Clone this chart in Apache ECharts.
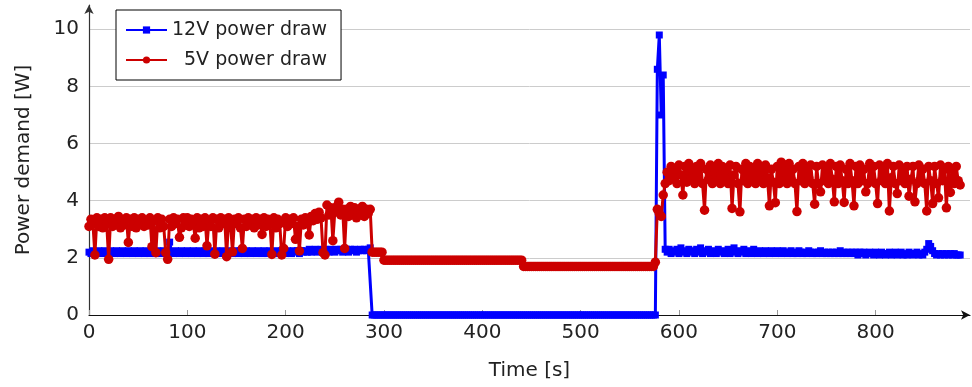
<!DOCTYPE html>
<html>
<head>
<meta charset="utf-8">
<script src="https://cdn.jsdelivr.net/npm/echarts@6/dist/echarts.min.js"></script>
<style>
html,body{margin:0;padding:0;background:#fff;}
#chart{width:972px;height:387px;}
</style>
</head>
<body>
<div id="chart"></div>
<script>
// sampling step of the time axis [s]
const timeStep = 2;
const xTicks = [0, 100, 200, 300, 400, 500, 600, 700, 800];
const yTicks = [0, 2, 4, 6, 8, 10];
const seriesNames = ['12V power draw', '5V power draw'];

// 12V power draw [W]
const p12_part1 = [ // t = 0 .. 286
  2.2,2.15,2.25,2.2,2.15,2.25,2.2,2.15,2.25,2.2,
  2.15,2.25,2.2,2.15,2.25,2.2,2.15,2.25,2.2,2.15,
  2.25,2.2,2.15,2.25,2.2,2.15,2.25,2.2,2.15,2.25,
  2.2,2.15,2.25,2.2,2.15,2.25,2.2,2.15,2.25,2.2,
  2.15,2.55,2.2,2.15,2.25,2.2,2.15,2.25,2.2,2.15,
  2.25,2.2,2.15,2.25,2.2,2.15,2.25,2.2,2.15,2.25,
  2.2,2.15,2.25,2.2,2.15,2.25,2.2,2.15,2.25,2.2,
  2.15,2.25,2.2,2.15,2.25,2.2,2.15,2.25,2.2,2.15,
  2.25,2.2,2.15,2.25,2.2,2.15,2.25,2.2,2.15,2.25,
  2.2,2.15,2.25,2.2,2.15,2.25,2.2,2.15,2.25,2.2,
  2.15,2.25,2.2,2.15,2.25,2.2,2.25,2.15,2.25,2.2,
  2.25,2.2,2.3,2.2,2.25,2.3,2.2,2.25,2.3,2.2,
  2.3,2.25,2.2,2.3,2.25,2.2,2.3,2.25,2.3,2.2,
  2.25,2.3,2.2,2.3,2.25,2.3,2.2,2.25,2.3,2.25,
  2.3,2.25,2.3,2.35
];
const p12_part2 = [ // t = 288 .. 576
  0,0,0,0,0,0,0,0,0,0,
  0,0,0,0,0,0,0,0,0,0,
  0,0,0,0,0,0,0,0,0,0,
  0,0,0,0,0,0,0,0,0,0,
  0,0,0,0,0,0,0,0,0,0,
  0,0,0,0,0,0,0,0,0,0,
  0,0,0,0,0,0,0,0,0,0,
  0,0,0,0,0,0,0,0,0,0,
  0,0,0,0,0,0,0,0,0,0,
  0,0,0,0,0,0,0,0,0,0,
  0,0,0,0,0,0,0,0,0,0,
  0,0,0,0,0,0,0,0,0,0,
  0,0,0,0,0,0,0,0,0,0,
  0,0,0,0,0,0,0,0,0,0,
  0,0,0,0,0
];
const p12_part3 = [ // t = 578 .. 886
  8.6,9.8,7.0,8.4,2.3,2.2,2.3,2.15,2.25,2.2,
  2.3,2.15,2.35,2.2,2.25,2.15,2.3,2.2,2.25,2.15,
  2.3,2.2,2.35,2.15,2.25,2.2,2.3,2.15,2.25,2.2,
  2.15,2.3,2.2,2.25,2.15,2.2,2.3,2.15,2.25,2.35,
  2.2,2.15,2.25,2.2,2.3,2.15,2.2,2.25,2.15,2.3,
  2.2,2.15,2.25,2.2,2.15,2.25,2.2,2.15,2.25,2.2,
  2.15,2.25,2.2,2.15,2.25,2.2,2.15,2.2,2.25,2.15,
  2.2,2.15,2.25,2.2,2.15,2.2,2.15,2.25,2.2,2.15,
  2.2,2.15,2.2,2.25,2.15,2.2,2.15,2.2,2.15,2.2,
  2.15,2.2,2.15,2.25,2.15,2.2,2.15,2.2,2.15,2.2,
  2.15,2.2,2.1,2.2,2.15,2.2,2.1,2.15,2.2,2.15,
  2.1,2.2,2.15,2.1,2.2,2.15,2.1,2.15,2.2,2.1,
  2.15,2.2,2.1,2.15,2.2,2.1,2.15,2.1,2.2,2.15,
  2.1,2.15,2.2,2.1,2.15,2.1,2.2,2.3,2.5,2.4,
  2.25,2.15,2.1,2.15,2.1,2.15,2.1,2.15,2.1,2.15,
  2.1,2.15,2.1,2.1,2.1
];

// 5V power draw [W]
const p5_part1 = [ // t = 0 .. 286
  3.1,3.35,3.2,2.1,3.4,3.1,3.35,3.05,3.4,3.2,
  1.95,3.4,3.1,3.35,3.2,3.45,3.05,3.3,3.15,3.4,
  2.54,3.35,3.1,3.4,3.05,3.35,3.2,3.4,3.1,3.3,
  3.15,3.4,2.39,3.3,2.18,3.4,3.05,3.35,3.1,2.18,
  1.95,3.35,3.1,3.4,3.2,3.35,2.72,3.05,3.4,3.15,
  3.4,3.1,3.35,3.2,2.69,3.4,3.05,3.35,3.1,3.4,
  2.42,3.3,3.1,3.4,2.13,3.35,3.05,3.4,3.2,3.35,
  2.04,3.4,3.1,2.21,3.35,3.2,3.4,3.05,2.33,3.35,
  3.1,3.4,3.2,3.35,3.05,3.4,3.15,3.35,2.82,3.4,
  3.1,3.35,3.2,2.12,3.4,3.05,3.35,3.2,2.1,2.33,
  3.4,3.1,3.35,3.2,3.4,2.65,3.1,2.24,3.35,3.15,
  3.4,3.2,2.8,3.45,3.3,3.55,3.35,3.6,3.4,2.18,
  2.1,3.85,3.5,3.75,2.6,3.6,3.8,3.95,3.5,3.7,
  2.33,3.7,3.45,3.8,3.55,3.75,3.4,3.7,3.5,3.8,
  3.45,3.7,3.55,3.7
];
const p5_part2 = [ // t = 288 .. 576
  2.2,2.2,2.2,2.2,2.2,2.2,1.92,1.92,1.92,1.92,
  1.92,1.92,1.92,1.92,1.92,1.92,1.92,1.92,1.92,1.92,
  1.92,1.92,1.92,1.92,1.92,1.92,1.92,1.92,1.92,1.92,
  1.92,1.92,1.92,1.92,1.92,1.92,1.92,1.92,1.92,1.92,
  1.92,1.92,1.92,1.92,1.92,1.92,1.92,1.92,1.92,1.92,
  1.92,1.92,1.92,1.92,1.92,1.92,1.92,1.92,1.92,1.92,
  1.92,1.92,1.92,1.92,1.92,1.92,1.92,1.92,1.92,1.92,
  1.92,1.92,1.92,1.92,1.92,1.92,1.92,1.7,1.7,1.7,
  1.7,1.7,1.7,1.7,1.7,1.7,1.7,1.7,1.7,1.7,
  1.7,1.7,1.7,1.7,1.7,1.7,1.7,1.7,1.7,1.7,
  1.7,1.7,1.7,1.7,1.7,1.7,1.7,1.7,1.7,1.7,
  1.7,1.7,1.7,1.7,1.7,1.7,1.7,1.7,1.7,1.7,
  1.7,1.7,1.7,1.7,1.7,1.7,1.7,1.7,1.7,1.7,
  1.7,1.7,1.7,1.7,1.7,1.7,1.7,1.7,1.7,1.7,
  1.7,1.7,1.7,1.7,1.85
];
const p5_part3 = [ // t = 578 .. 886
  3.7,3.55,3.45,4.2,4.6,5.0,4.7,5.2,4.8,5.1,
  4.6,5.25,4.9,4.2,5.2,4.65,5.3,4.75,5.1,4.6,
  5.2,4.7,5.3,4.6,3.67,5.1,4.75,5.25,4.6,5.15,
  4.7,5.3,4.6,5.2,4.8,5.1,4.6,5.25,3.73,4.9,
  5.2,4.6,3.61,5.1,4.7,5.3,4.6,5.2,4.75,5.15,
  4.6,5.3,4.7,5.2,4.6,5.25,4.8,3.82,5.1,4.65,
  3.93,5.2,4.6,5.35,4.7,5.25,4.6,5.3,4.75,5.1,
  4.6,3.62,5.2,4.7,5.3,4.6,5.15,4.8,5.25,4.6,
  3.88,5.2,4.6,4.31,5.25,4.7,5.1,4.6,5.3,4.75,
  3.96,5.2,4.6,5.25,4.7,3.94,5.1,4.6,5.3,4.7,
  3.82,5.2,4.6,5.25,4.7,5.1,4.31,4.6,5.3,4.75,
  5.2,4.6,3.9,5.25,4.7,5.1,4.6,5.3,3.64,4.8,
  5.2,4.6,4.25,5.25,4.7,5.1,4.6,5.2,4.16,4.75,
  5.2,3.96,4.6,5.25,4.7,5.1,4.6,3.64,5.2,4.7,
  3.9,5.2,4.6,4.1,5.25,4.7,5.1,3.75,5.2,4.29,
  5.1,4.6,5.2,4.7,4.55
];

const p12 = p12_part1.concat(p12_part2, p12_part3);
const p5 = p5_part1.concat(p5_part2, p5_part3);
const toPairs = arr => arr.map((v, i) => [i * timeStep, v]);

const FONT = 'DejaVu Sans';
const TXT = '#222';
const chart = echarts.init(document.getElementById('chart'), null, {renderer: 'canvas'});
chart.setOption({
  animation: false,
  grid: {left: 89, right: 2, top: 5, bottom: 72, containLabel: false},
  legend: {
    orient: 'vertical',
    left: 116, top: 10,
    padding: [9, 14, 9, 9],
    borderColor: '#000', borderWidth: 1, borderRadius: 0,
    backgroundColor: '#fff',
    itemWidth: 41, itemHeight: 9, itemGap: 8, itemTextGap: 9,
    textStyle: {fontFamily: FONT, fontSize: 19, color: TXT, lineHeight: 22},
    data: [
      {name: seriesNames[0], itemStyle: {borderWidth: 0}},
      {name: seriesNames[1], itemStyle: {borderWidth: 0}, textStyle: {padding: [0, 0, 0, 12]}}
    ]
  },
  xAxis: {
    type: 'value', min: 0, max: 896, interval: 100,
    name: 'Time [s]', nameLocation: 'middle', nameGap: 46,
    nameTextStyle: {fontFamily: FONT, fontSize: 20, color: TXT},
    axisLine: {show: true, onZero: false, lineStyle: {color: '#111', width: 1.2},
      symbol: ['none', 'arrow'], symbolSize: [7, 9]},
    axisTick: {show: true, inside: true, length: 5, lineStyle: {color: '#999'}, customValues: xTicks},
    axisLabel: {fontFamily: FONT, fontSize: 20, color: TXT, margin: 8, customValues: xTicks},
    splitLine: {show: false}
  },
  yAxis: {
    type: 'value', min: 0, max: 10.85, interval: 2,
    name: 'Power demand [W]', nameLocation: 'middle', nameGap: 55, nameRotate: 90,
    nameTextStyle: {fontFamily: FONT, fontSize: 20, color: TXT},
    axisLine: {show: true, lineStyle: {color: '#333', width: 1.2},
      symbol: ['none', 'arrow'], symbolSize: [7, 9]},
    axisTick: {show: false},
    axisLabel: {fontFamily: FONT, fontSize: 20, color: TXT, margin: 10, customValues: yTicks},
    splitLine: {show: true, showMinLine: false, showMaxLine: false, lineStyle: {color: '#cccccc', width: 1}}
  },
  series: [
    {
      name: seriesNames[0], type: 'line', data: toPairs(p12),
      symbol: 'rect', symbolSize: 7, showAllSymbol: true,
      lineStyle: {color: '#0000ff', width: 3},
      itemStyle: {color: '#0000ff', borderWidth: 0},
      clip: false, z: 3
    },
    {
      name: seriesNames[1], type: 'line', data: toPairs(p5),
      symbol: 'circle', symbolSize: 9.5, showAllSymbol: true,
      lineStyle: {color: '#cc0000', width: 3},
      itemStyle: {color: '#cc0000', borderWidth: 0},
      clip: false, z: 4
    }
  ]
});
</script>
</body>
</html>
